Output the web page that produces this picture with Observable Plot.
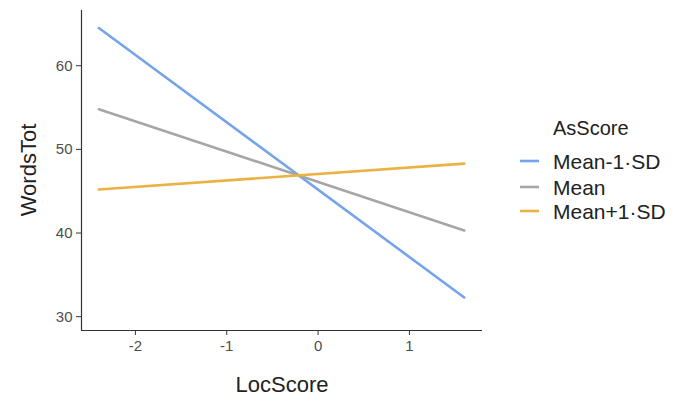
<!DOCTYPE html>
<html><head><meta charset="utf-8">
<script src="https://cdn.jsdelivr.net/npm/d3@7"></script>
<script src="https://cdn.jsdelivr.net/npm/@observablehq/plot@0.6"></script>
<style>body{margin:0;background:#fff;font-family:"Liberation Sans",Arial,sans-serif;}</style>
</head><body><div id="chart"></div>
<script>
const series = ["Mean-1·SD", "Mean", "Mean+1·SD"];
const colors = ["#75a4eb", "#a6a6a6", "#ebb143"];
const xRange = [-2.4, 1.6];
const startValues = [64.5, 54.8, 45.2];
const endValues = [32.3, 40.3, 48.3];
const xTicks = [-2, -1, 0, 1];
const yTicks = [30, 40, 50, 60];
const xDomain = [-2.59, 1.8];
const yDomain = [28.35, 66.6];

const data = [];
series.forEach((s, i) => {
  data.push({AsScore: s, LocScore: xRange[0], WordsTot: startValues[i]});
  data.push({AsScore: s, LocScore: xRange[1], WordsTot: endValues[i]});
});

const W = 678, H = 403;
const plot = Plot.plot({
  width: W, height: H,
  marginLeft: 81, marginTop: 10, marginRight: 196, marginBottom: 73,
  style: {fontFamily: '"Liberation Sans", Arial, sans-serif', background: "#fff", fontSize: "15px"},
  x: {domain: xDomain},
  y: {domain: yDomain},
  color: {domain: series, range: colors},
  marks: [
    Plot.ruleX([xDomain[0]], {stroke: "#333", strokeWidth: 1.2}),
    Plot.ruleY([yDomain[0]], {stroke: "#333", strokeWidth: 1.2}),
    Plot.axisX({ticks: xTicks, tickSize: 5, tickPadding: 5, fontSize: 15, stroke: "#333", color: "#4d4d4d", tickFormat: d => String(d).replace("−","-"), label: null}),
    Plot.axisY({ticks: yTicks, tickSize: 5, tickPadding: 4, fontSize: 15, stroke: "#333", color: "#4d4d4d", label: null}),
    Plot.line(data, {x: "LocScore", y: "WordsTot", z: "AsScore", stroke: "AsScore", strokeWidth: 2.6})
  ]
});
document.getElementById("chart").appendChild(plot);

const svg = d3.select(plot);
svg.selectAll('g[aria-label$="tick label"]').attr("font-size", 15);
// axis titles
svg.append("text").attr("x", 282).attr("y", 392).attr("text-anchor", "middle")
  .attr("font-size", 22).attr("fill", "#222").text("LocScore");
svg.append("text").attr("transform", "translate(36,170) rotate(-90)").attr("text-anchor", "middle")
  .attr("font-size", 22).attr("fill", "#222").text("WordsTot");
// legend
svg.append("text").attr("x", 553).attr("y", 135).attr("text-anchor", "start").attr("font-size", 20).attr("fill", "#222").text("AsScore");
const ys = [161, 187, 211];
series.forEach((s, i) => {
  svg.append("line").attr("x1", 520).attr("x2", 539).attr("y1", ys[i]).attr("y2", ys[i])
    .attr("stroke", colors[i]).attr("stroke-width", 2.6);
  svg.append("text").attr("x", 553).attr("y", ys[i]).attr("dy", "0.36em").attr("text-anchor", "start")
    .attr("font-size", 21).attr("fill", "#222").text(s);
});
</script></body></html>
